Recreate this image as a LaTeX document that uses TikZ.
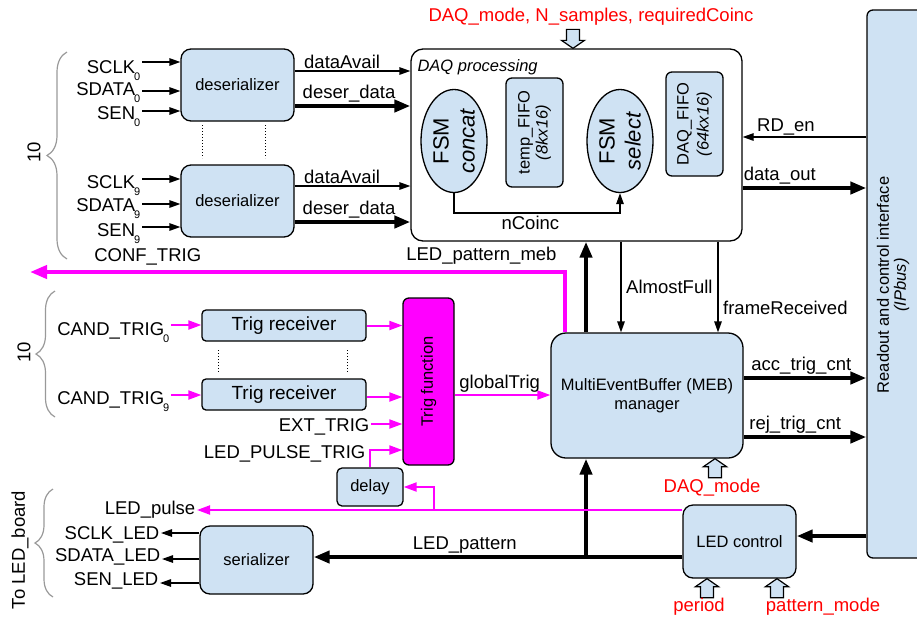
\documentclass[tikz,border=0pt]{standalone}
\usepackage{fontspec}
\setmainfont{Liberation Sans}
\usepackage{tikz}
\usetikzlibrary{arrows.meta, positioning, shapes.geometric, decorations.pathreplacing}
\definecolor{boxblue}{HTML}{CFE2F3}
\definecolor{trigmagenta}{HTML}{FF00FF}
\definecolor{paramred}{HTML}{FF0000}
\definecolor{bracegray}{HTML}{999999}
\newcommand{\chidx}[1]{\kern-1pt\raisebox{-7pt}{\fontsize{11}{11}\selectfont #1}}

\begin{document}
\begin{tikzpicture}[
    x=1pt, y=-1pt,
    blk/.style={
        draw,
        fill=boxblue,
        line width=1.3pt,
        rounded corners=10pt,
        inner sep=0pt,
        align=center,
        font=\fontsize{16.5}{19}\selectfont
    },
    vtxt/.style={
        rotate=90,
        align=center,
        inner sep=0pt,
        font=\fontsize{16.5}{18}\selectfont
    },
    lbl/.style={
        font=\fontsize{18.5}{21}\selectfont,
        inner sep=1.5pt
    },
    param/.style={lbl, text=paramred},
    sig/.style={-{Triangle[length=11pt,width=7.5pt]}, line width=1.3pt},
    bus/.style={-{Triangle[length=16pt,width=12pt]}, line width=4pt},
    trg/.style={-{Triangle[length=13pt,width=9pt]}, line width=2pt, draw=trigmagenta},
    trgbus/.style={-{Triangle[length=17pt,width=13pt]}, line width=4pt, draw=trigmagenta},
    sep/.style={dotted, line width=1pt},
    grp/.style={decorate, decoration={brace, amplitude=#1}, draw=bracegray, line width=1.2pt},
    pics/inarrow/.style={code={
        \draw[fill=boxblue, line width=1.2pt] (0,0) -- (11.5,8) -- (6.5,8) -- (6.5,19)
            -- (-6.5,19) -- (-6.5,8) -- (-11.5,8) -- cycle;
    }}
]
\useasboundingbox (0,0) rectangle (917,619);

% Readout and control interface
\node[blk, rounded corners=6pt, minimum width=70pt, minimum height=548pt] (readout) at (902,284) {};
\node[vtxt, font=\fontsize{16.5}{17}\selectfont] (readout-txt) at (893,285) {Readout and control interface\\\textit{(IPbus)}};

% DAQ processing
\node[blk, fill=white, rounded corners=12pt, minimum width=331pt, minimum height=192pt] (daq) at (576.5,145) {};
\node[inner sep=0pt, anchor=north west, font=\fontsize{16.5}{19}\selectfont\itshape] (daq-title) at ([xshift=7pt,yshift=-11pt]daq.north west) {DAQ processing};

\node[blk, ellipse, sharp corners, minimum width=66pt, minimum height=103pt] (fsmc) at (454,141) {};
\node[vtxt, font=\fontsize{22}{26}\selectfont] (fsmc-txt) at (fsmc) {FSM\\\textit{concat}};
\node[blk, rounded corners=6pt, minimum width=57pt, minimum height=109pt] (tmpfifo) at (534.5,132.5) {};
\node[vtxt] (tmpfifo-txt) at (tmpfifo) {temp\_FIFO\\\textit{(8kx16)}};
\node[blk, ellipse, sharp corners, minimum width=66pt, minimum height=103pt] (fsms) at (620,141) {};
\node[vtxt, font=\fontsize{22}{26}\selectfont] (fsms-txt) at (fsms) {FSM\\\textit{select}};
\node[blk, rounded corners=6pt, minimum width=57pt, minimum height=104pt] (daqfifo) at (694.5,124) {};
\node[vtxt, font=\fontsize{16.5}{20}\selectfont] (daqfifo-txt) at (daqfifo) {DAQ\_FIFO\\\textit{(64kx16)}};

\draw[sig] (fsmc.south) -- (fsmc.south |- 0,213) -| (fsms.south) node[lbl, pos=0.23, below=1pt] (ncoinc) {nCoinc};

\pic[yscale=-1] (daqin) at (daq.north -| 573,0) {inarrow};
\node[param] (daqparam) at (591,17) {DAQ\_mode, N\_samples, requiredCoinc};

% Deserializers
\node[blk, minimum width=113pt, minimum height=72pt] (deser0) at (237.5,85) {deserializer};
\node[blk, minimum width=113pt, minimum height=72pt] (deser9) at (237.5,201) {deserializer};
\draw[sep] (202,125) -- (202,158);
\draw[sep] (265,125) -- (265,158);

\node[lbl, anchor=base east] (sclk0) at (142,73) {SCLK\chidx{0}};
\node[lbl, anchor=base east] (sdata0) at (142,95) {SDATA\chidx{0}};
\node[lbl, anchor=base east] (sen0) at (142,119) {SEN\chidx{0}};
\draw[sig] (sclk0.east |- 0,62) -- (deser0.west |- 0,62);
\draw[sig] (sdata0.east |- 0,91) -- (deser0.west |- 0,91);
\draw[sig] (sen0.east |- 0,111) -- (deser0.west |- 0,111);

\node[lbl, anchor=base east] (sclk9) at (142,188) {SCLK\chidx{9}};
\node[lbl, anchor=base east] (sdata9) at (142,211) {SDATA\chidx{9}};
\node[lbl, anchor=base east] (sen9) at (142,236) {SEN\chidx{9}};
\draw[sig] (sclk9.east |- 0,179) -- (deser9.west |- 0,179);
\draw[sig] (sdata9.east |- 0,204) -- (deser9.west |- 0,204);
\draw[sig] (sen9.east |- 0,227) -- (deser9.west |- 0,227);

\draw[sig] (deser0.east |- 0,71) -- (daq.west |- 0,71) node[lbl, pos=0.41, above] (avail0) {dataAvail};
\draw[bus] (deser0.east |- 0,106) -- (daq.west |- 0,106) node[lbl, pos=0.47, above] (data0) {deser\_data};
\draw[sig] (deser9.east |- 0,186) -- (daq.west |- 0,186) node[lbl, pos=0.41, above] (avail9) {dataAvail};
\draw[bus] (deser9.east |- 0,222) -- (daq.west |- 0,222) node[lbl, pos=0.47, above] (data9) {deser\_data};

\draw[grp=20pt] (67,259) -- (67,52);
\node[lbl, rotate=90] (nconf) at (34,152) {10};

% Readout links
\draw[sig] (readout.west |- 0,137) -- (daq.east |- 0,137) node[lbl, pos=0.65, above] (rden) {RD\_en};
\draw[bus] (daq.east |- 0,188) -- (readout.west |- 0,188) node[lbl, pos=0.3, above] (dataout) {data\_out};

% MEB manager
\node[blk, rounded corners=15pt, minimum width=192pt, minimum height=125pt] (meb) at (647,395.5) {MultiEventBuffer (MEB)\\manager};
\draw[bus] (meb.north -| 586,0) -- (daq.south -| 586,0) node[lbl, pos=0.85, left=26pt] (patmeb) {LED\_pattern\_meb};
\draw[sig] (daq.south -| 621,0) -- (meb.north -| 621,0) node[lbl, midway, right=3pt] (almfull) {AlmostFull};
\draw[sig] (daq.south -| 718,0) -- (meb.north -| 718,0) node[lbl, pos=0.73, right=3pt] (framerx) {frameReceived};
\draw[bus] (meb.east |- 0,378) -- (readout.west |- 0,378) node[lbl, pos=0.47, above] (acccnt) {acc\_trig\_cnt};
\draw[bus] (meb.east |- 0,437) -- (readout.west |- 0,437) node[lbl, pos=0.42, above] (rejcnt) {rej\_trig\_cnt};
\pic (mebin) at (meb.south -| 715,0) {inarrow};
\node[param] (mebmode) at (712,488) {DAQ\_mode};

\coordinate (conftrig-end) at (30,272);
\draw[trgbus] (meb.north -| 565,0) |- (conftrig-end) node[lbl, pos=0.89, above=3pt] (conftrig) {CONF\_TRIG};

% Trigger path
\node[blk, rounded corners=4pt, minimum width=164pt, minimum height=31pt, font=\fontsize{19}{21}\selectfont] (trec0) at (284,325.5) {Trig receiver};
\node[blk, rounded corners=4pt, minimum width=164pt, minimum height=31pt, font=\fontsize{19}{21}\selectfont] (trec9) at (284,394.5) {Trig receiver};
\draw[sep] (218,350) -- (218,372);
\draw[sep] (347,350) -- (347,372);
\node[blk, fill=trigmagenta, rounded corners=6pt, minimum width=51pt, minimum height=167pt] (trigf) at (428.5,381.5) {};
\node[vtxt] (trigf-txt) at (trigf) {Trig function};

\node[lbl, anchor=base east] (cand0) at (171,335) {CAND\_TRIG\chidx{0}};
\node[lbl, anchor=base east] (cand9) at (171,404) {CAND\_TRIG\chidx{9}};
\draw[trg] (cand0.east |- 0,325) -- (trec0.west |- 0,325);
\draw[trg] (cand9.east |- 0,395) -- (trec9.west |- 0,395);
\draw[trg] (trec0.east) -- (trigf.west |- trec0.east);
\draw[trg] (trec9.east |- 0,397) -- (trigf.west |- 0,397);
\node[lbl, anchor=base east] (exttrig) at (371,431) {EXT\_TRIG};
\draw[trg] (exttrig.east |- 0,424) -- (trigf.west |- 0,424);
\node[lbl, anchor=base east] (pulsetrig) at (367,458) {LED\_PULSE\_TRIG};
\node[blk, rounded corners=5pt, minimum width=66pt, minimum height=38pt] (delay) at (370,487) {delay};
\draw[trg] (delay.north) |- (trigf.west |- 0,450);
\draw[trg] (trigf.east |- 0,395) -- (meb.west |- 0,395) node[lbl, pos=0.47, above] (globtrig) {globalTrig};

\draw[grp=19pt] (55,417) -- (55,291);
\node[lbl, rotate=90] (ncand) at (24,352) {10};

% LED control and serializer
\node[blk, minimum width=113pt, minimum height=73pt] (ledc) at (739.5,541.5) {LED control};
\node[blk, minimum width=113pt, minimum height=68pt] (ser) at (256.5,560) {serializer};
\draw[bus] (readout.west |- 0,536) -- (ledc.east |- 0,536);
\coordinate (pattern-split) at (586,557);
\draw[bus] (ledc.west |- 0,557) -- (ser.east |- 0,557) node[lbl, pos=0.59, above] (ledpat) {LED\_pattern};
\draw[bus] (pattern-split) -- (meb.south -| pattern-split);
\pic (periodin) at (ledc.south -| 707,0) {inarrow};
\pic (patmodein) at (ledc.south -| 777,0) {inarrow};
\node[param] (period) at (699,607) {period};
\node[param] (patmode) at (823,607) {pattern\_mode};

\node[lbl, anchor=base east] (ledpulse) at (197,514) {LED\_pulse};
\coordinate (pulse-split) at (434,510);
\draw[trg] (ledc.west |- 0,510) -- (ledpulse.east |- 0,510);
\draw[trg] (pulse-split) |- (delay.east);

\node[lbl, anchor=base east] (sclkled) at (161,539) {SCLK\_LED};
\node[lbl, anchor=base east] (sdataled) at (162,561) {SDATA\_LED};
\node[lbl, anchor=base east] (senled) at (160,585) {SEN\_LED};
\draw[sig] (ser.west |- 0,533) -- (sclkled.east |- 0,533);
\draw[sig] (ser.west |- 0,559) -- (sdataled.east |- 0,559);
\draw[sig] (ser.west |- 0,583) -- (senled.east |- 0,583);

\draw[grp=18pt] (53,597) -- (53,489);
\node[lbl, rotate=90] (toled) at (20,550) {To LED\_board};

\end{tikzpicture}
\end{document}
